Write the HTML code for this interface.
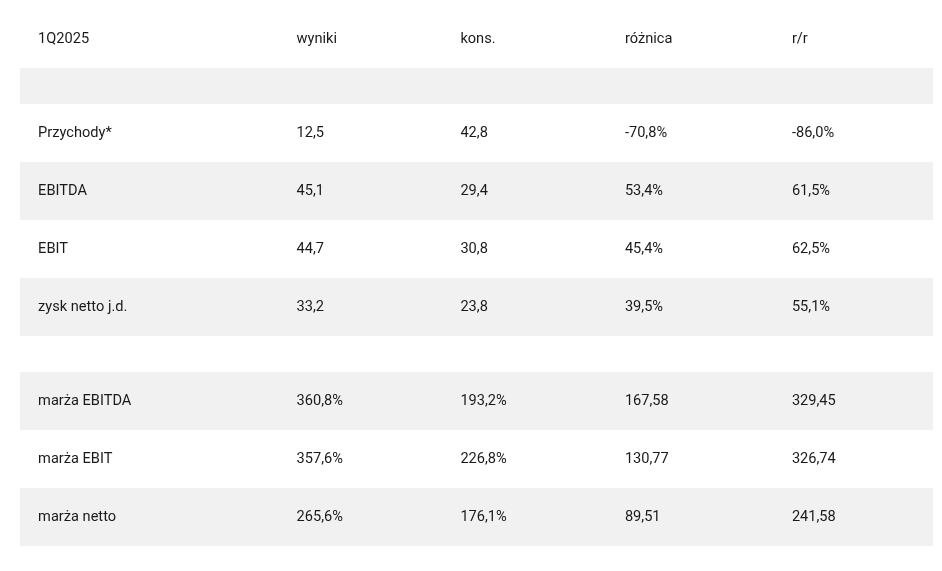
<!DOCTYPE html>
<html lang="pl">
<head>
<meta charset="utf-8">
<title>1Q2025</title>
<style>
html,body{margin:0;padding:0;background:#fff;}
body{width:942px;height:571px;overflow:hidden;}
table{position:absolute;left:20px;top:10px;width:913px;border-collapse:collapse;table-layout:fixed;
  font-family:Roboto,"Liberation Sans",Arial,sans-serif;font-size:14.6px;color:#1a1a1a;}
td{padding:0 0 2px 18.1px;box-sizing:border-box;height:58px;vertical-align:middle;white-space:nowrap;line-height:18px;}
tr.e td{height:36px;}
tr.g td{background:#f1f1f1;}
</style>
</head>
<body>
<table>
<colgroup><col style="width:258.5px"><col style="width:163.8px"><col style="width:164.5px"><col style="width:167px"><col></colgroup>
<tr><td>1Q2025</td><td>wyniki</td><td>kons.</td><td>różnica</td><td>r/r</td></tr>
<tr class="g e"><td></td><td></td><td></td><td></td><td></td></tr>
<tr><td>Przychody*</td><td>12,5</td><td>42,8</td><td>-70,8%</td><td>-86,0%</td></tr>
<tr class="g"><td>EBITDA</td><td>45,1</td><td>29,4</td><td>53,4%</td><td>61,5%</td></tr>
<tr><td>EBIT</td><td>44,7</td><td>30,8</td><td>45,4%</td><td>62,5%</td></tr>
<tr class="g"><td>zysk netto j.d.</td><td>33,2</td><td>23,8</td><td>39,5%</td><td>55,1%</td></tr>
<tr class="e"><td></td><td></td><td></td><td></td><td></td></tr>
<tr class="g"><td>marża EBITDA</td><td>360,8%</td><td>193,2%</td><td>167,58</td><td>329,45</td></tr>
<tr><td>marża EBIT</td><td>357,6%</td><td>226,8%</td><td>130,77</td><td>326,74</td></tr>
<tr class="g"><td>marża netto</td><td>265,6%</td><td>176,1%</td><td>89,51</td><td>241,58</td></tr>
</table>
</body>
</html>
